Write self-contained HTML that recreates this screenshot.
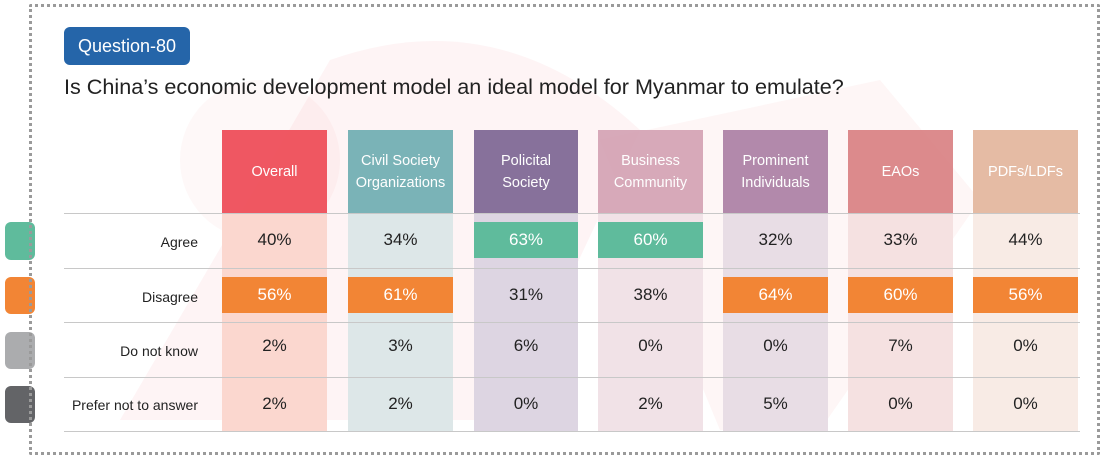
<!DOCTYPE html>
<html><head><meta charset="utf-8"><style>
body{margin:0;width:1110px;height:459px;background:#fff;position:relative;overflow:hidden;font-family:"Liberation Sans",sans-serif;color:#222}
div{position:absolute;box-sizing:border-box}
.tab{left:5px;width:30px;border-radius:6px}
.hd{top:130px;height:84px;color:#fff;font-size:14.5px;display:flex;align-items:center;justify-content:center;text-align:center;line-height:22px;opacity:.95}
.bg{top:214px;height:218px}
.ln{left:64px;width:1016px;height:1px;background:#c8c8c8}
.lbl{left:40px;width:158px;text-align:right;font-size:14px;color:#222}
.c{width:105px;text-align:center;font-size:17px;height:36px;line-height:36px}
.g{background:#5fbb9c;color:#fff}
.o{background:#f28535;color:#fff}
</style></head><body>
<svg style="position:absolute;left:0;top:0" width="1110" height="459"><path d="M120,420 L330,60 Q500,0 640,130 L560,300 L480,420 Z" fill="#e84a55" opacity="0.06"/><circle cx="260" cy="160" r="80" fill="#e84a55" opacity="0.04"/><path d="M600,140 L880,80 L980,200 L820,430 L720,430 Z" fill="#e84a55" opacity="0.05"/></svg>
<div class="tab" style="top:222px;height:38px;background:#5fbb9c"></div>
<div class="tab" style="top:277px;height:37px;background:#f28535"></div>
<div class="tab" style="top:332px;height:37px;background:#abacae"></div>
<div class="tab" style="top:386px;height:37px;background:#636467"></div>
<div style="left:29px;top:4px;width:1071px;height:451px;border:3px dotted #9a9a9a;border-radius:2px"></div>
<div style="left:64px;top:27px;width:126px;height:38px;background:#2565a9;border-radius:6px;color:#fff;font-size:18px;line-height:38px;text-align:center">Question-80</div>
<div style="left:64px;top:74px;font-size:21.6px;color:#222;white-space:nowrap">Is China’s economic development model an ideal model for Myanmar to emulate?</div>

<div class="bg" style="left:222px;width:105px;background:#fbd7cf"></div>
<div class="bg" style="left:348px;width:105px;background:#dde7e8"></div>
<div class="bg" style="left:474px;width:104px;background:#ddd5e2"></div>
<div class="bg" style="left:598px;width:105px;background:#f1e2e7"></div>
<div class="bg" style="left:723px;width:105px;background:#e8dde5"></div>
<div class="bg" style="left:848px;width:105px;background:#f5e1e1"></div>
<div class="bg" style="left:973px;width:105px;background:#f8ebe5"></div>

<div class="hd" style="left:222px;width:105px;background:#ef4f5a">Overall</div>
<div class="hd" style="left:348px;width:105px;background:#73b0b4">Civil Society<br>Organizations</div>
<div class="hd" style="left:474px;width:104px;background:#816b97">Policital<br>Society</div>
<div class="hd" style="left:598px;width:105px;background:#d5a5b6">Business<br>Community</div>
<div class="hd" style="left:723px;width:105px;background:#ae84a7">Prominent<br>Individuals</div>
<div class="hd" style="left:848px;width:105px;background:#db8587">EAOs</div>
<div class="hd" style="left:973px;width:105px;background:#e4b8a0">PDFs/LDFs</div>

<div class="ln" style="top:213px"></div><div class="ln" style="top:268px"></div><div class="ln" style="top:322px"></div><div class="ln" style="top:377px"></div><div class="ln" style="top:431px"></div>

<div class="lbl" style="top:234px">Agree</div>
<div class="lbl" style="top:289px">Disagree</div>
<div class="lbl" style="top:343px">Do not know</div>
<div class="lbl" style="top:397px">Prefer not to answer</div>

<div class="c" style="left:222px;top:222px">40%</div>
<div class="c" style="left:348px;top:222px">34%</div>
<div class="c g" style="left:474px;top:222px;width:104px">63%</div>
<div class="c g" style="left:598px;top:222px">60%</div>
<div class="c" style="left:723px;top:222px">32%</div>
<div class="c" style="left:848px;top:222px">33%</div>
<div class="c" style="left:973px;top:222px">44%</div>

<div class="c o" style="left:222px;top:277px">56%</div>
<div class="c o" style="left:348px;top:277px">61%</div>
<div class="c" style="left:474px;top:277px;width:104px">31%</div>
<div class="c" style="left:598px;top:277px">38%</div>
<div class="c o" style="left:723px;top:277px">64%</div>
<div class="c o" style="left:848px;top:277px">60%</div>
<div class="c o" style="left:973px;top:277px">56%</div>

<div class="c" style="left:222px;top:328px">2%</div>
<div class="c" style="left:348px;top:328px">3%</div>
<div class="c" style="left:474px;top:328px;width:104px">6%</div>
<div class="c" style="left:598px;top:328px">0%</div>
<div class="c" style="left:723px;top:328px">0%</div>
<div class="c" style="left:848px;top:328px">7%</div>
<div class="c" style="left:973px;top:328px">0%</div>

<div class="c" style="left:222px;top:386px">2%</div>
<div class="c" style="left:348px;top:386px">2%</div>
<div class="c" style="left:474px;top:386px;width:104px">0%</div>
<div class="c" style="left:598px;top:386px">2%</div>
<div class="c" style="left:723px;top:386px">5%</div>
<div class="c" style="left:848px;top:386px">0%</div>
<div class="c" style="left:973px;top:386px">0%</div>
</body></html>
